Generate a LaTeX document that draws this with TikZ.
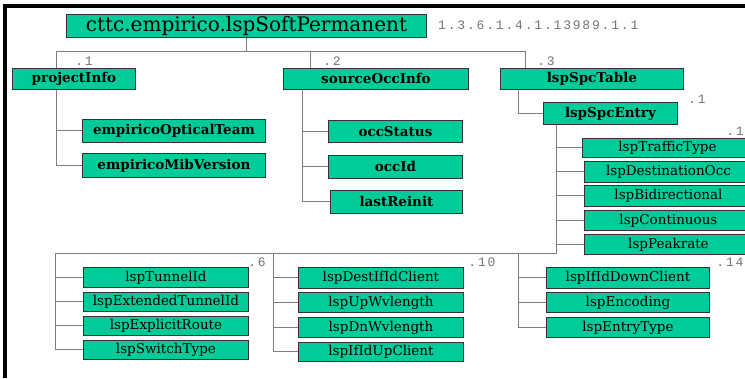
\documentclass[tikz,border=0pt]{standalone}
\usepackage{fontspec}
\newfontfamily\serifbox{DejaVu Serif}
\newfontfamily\oidfont{Liberation Mono}[LetterSpace=14]
\definecolor{boxgreen}{RGB}{0,204,153}
\definecolor{linegray}{RGB}{125,125,125}
\definecolor{oidgray}{RGB}{115,115,115}
\begin{document}
\begin{tikzpicture}[x=1pt,y=-1pt,
  box/.style={draw=black!80, fill=boxgreen, line width=0.9pt, inner sep=0pt,
    anchor=north west, font=\serifbox\fontsize{13.5}{14}\selectfont},
  midbox/.style={box, font=\serifbox\bfseries\fontsize{13.5}{14}\selectfont},
  rootbox/.style={box, font=\serifbox\fontsize{20}{20}\selectfont},
  conn/.style={draw=linegray, line width=1pt},
  oid/.style={text=oidgray, font=\oidfont\fontsize{13}{13}\selectfont, inner sep=0pt}]
\useasboundingbox (0,0) rectangle (745,378);
\draw[line width=3.5pt, line join=miter] (5,378) -- (5,6) -- (745,6);

% root and first level
\node[rootbox, minimum width=360, minimum height=23] (root) at (66,14) {cttc.empirico.lspSoftPermanent};
\node[oid, anchor=west] (oidlabel) at (438,25) {1.3.6.1.4.1.13989.1.1};
\node[midbox, minimum width=123, minimum height=21] (projectInfo) at (12,68) {projectInfo};
\node[midbox, minimum width=185, minimum height=21] (sourceOccInfo) at (283,68) {sourceOccInfo};
\node[midbox, minimum width=183, minimum height=21] (lspSpcTable) at (500,68) {lspSpcTable};
\node[midbox, minimum width=134, minimum height=22] (lspSpcEntry) at (543,102) {lspSpcEntry};

\node[oid] (l1) at (84,61) {.1};
\node[oid] (l2) at (332,61) {.2};
\node[oid] (l3) at (546,61) {.3};
\node[oid] (l4) at (697,99) {.1};
\node[oid] (l5) at (735,131) {.1};
\node[oid] (l6) at (257,262) {.6};
\node[oid] (l7) at (482,262) {.10};
\node[oid] (l8) at (730,262) {.14};

% second level
\node[midbox, minimum width=183, minimum height=23] (optTeam) at (82,119) {empiricoOpticalTeam};
\node[midbox, minimum width=183, minimum height=24] (mibVer) at (82,153) {empiricoMibVersion};
\node[midbox, minimum width=134, minimum height=22] (occStatus) at (328,120) {occStatus};
\node[midbox, minimum width=134, minimum height=23] (occId) at (328,155) {occId};
\node[midbox, minimum width=132, minimum height=23] (lastReinit) at (330,190) {lastReinit};

% entry columns
\node[box, minimum width=170, minimum height=19] (traffic) at (582,138) {lspTrafficType};
\node[box, minimum width=168, minimum height=21] (destOcc) at (584,161) {lspDestinationOcc};
\node[box, minimum width=168, minimum height=21] (bidir) at (584,185) {lspBidirectional};
\node[box, minimum width=168, minimum height=20] (contin) at (584,210) {lspContinuous};
\node[box, minimum width=168, minimum height=20] (peak) at (584,234) {lspPeakrate};

\node[box, minimum width=165, minimum height=20] (tunnel) at (83,267) {lspTunnelId};
\node[box, minimum width=165, minimum height=19] (extTunnel) at (83,292) {lspExtendedTunnelId};
\node[box, minimum width=165, minimum height=19] (explRoute) at (83,316) {lspExplicitRoute};
\node[box, minimum width=165, minimum height=19] (switchType) at (83,340) {lspSwitchType};

\node[box, minimum width=165, minimum height=21] (destIf) at (298,267) {lspDestIfIdClient};
\node[box, minimum width=165, minimum height=20] (upWv) at (298,292) {lspUpWvlength};
\node[box, minimum width=165, minimum height=20] (dnWv) at (298,317) {lspDnWvlength};
\node[box, minimum width=165, minimum height=19] (ifUp) at (298,342) {lspIfIdUpClient};

\node[box, minimum width=163, minimum height=21] (ifDown) at (546,267) {lspIfIdDownClient};
\node[box, minimum width=163, minimum height=20] (encoding) at (546,292) {lspEncoding};
\node[box, minimum width=163, minimum height=20] (entryType) at (546,317) {lspEntryType};

% connector coordinates
\coordinate (bL) at (56,51);
\coordinate (bM) at (310,51);
\coordinate (bR) at (525,51);
\coordinate (t2) at (302,0);
\coordinate (t3) at (518,0);
\coordinate (busW) at (55,253);
\coordinate (busE) at (556,253);
\coordinate (g2) at (273,253);
\coordinate (g3) at (518,253);

\draw[conn] (root.south) -- (root.south |- bL);
\draw[conn] (bL) -- (bR);
\draw[conn] (bL) -- (bL |- projectInfo.north);
\draw[conn] (bM) -- (bM |- sourceOccInfo.north);
\draw[conn] (bR) -- (bR |- lspSpcTable.north);

\draw[conn] (projectInfo.south -| bL) |- (mibVer.west);
\draw[conn] (optTeam.west -| bL) -- (optTeam.west);

\draw[conn] (sourceOccInfo.south -| t2) |- (lastReinit.west);
\draw[conn] (occStatus.west -| t2) -- (occStatus.west);
\draw[conn] (occId.west -| t2) -- (occId.west);

\draw[conn] (lspSpcTable.south -| t3) |- (lspSpcEntry.west);

\draw[conn] (lspSpcEntry.south -| busE) -- (busE) -- (busW) |- (switchType.west);
\foreach \n in {traffic,destOcc,bidir,contin,peak}
  \draw[conn] (\n.west -| busE) -- (\n.west);
\foreach \n in {tunnel,extTunnel,explRoute}
  \draw[conn] (\n.west -| busW) -- (\n.west);
\draw[conn] (g2) |- (ifUp.west);
\foreach \n in {destIf,upWv,dnWv}
  \draw[conn] (\n.west -| g2) -- (\n.west);
\draw[conn] (g3) |- (entryType.west);
\foreach \n in {ifDown,encoding}
  \draw[conn] (\n.west -| g3) -- (\n.west);
\end{tikzpicture}
\end{document}
